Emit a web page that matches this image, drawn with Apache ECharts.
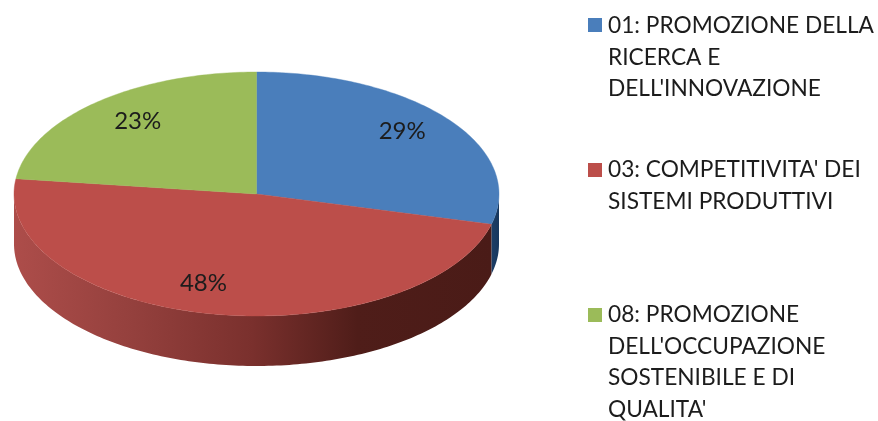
<!DOCTYPE html>
<html><head><meta charset="utf-8">
<style>html,body{margin:0;padding:0;background:#fff}#c{width:878px;height:421px}</style>
<script src="https://cdn.jsdelivr.net/npm/echarts@6/dist/echarts.min.js"></script>
</head><body><div id="c"></div>
<script>
const categories = ["01: PROMOZIONE DELLA\nRICERCA E\nDELL'INNOVAZIONE", "03: COMPETITIVITA' DEI\nSISTEMI PRODUTTIVI", "08: PROMOZIONE\nDELL'OCCUPAZIONE\nSOSTENIBILE E DI\nQUALITA'"];
const values = [29, 48, 23];
const topColors = ['#4a7ebb', '#bc4e4a', '#9bbb59'];
const wallStops = [
  [[0, '#1c3e66'], [1, '#17375e']],
  [[0, '#ad4d4a'], [0.25, '#94403d'], [0.5, '#7a302d'], [0.72, '#4f1d19'], [1, '#4a1b17']],
  [[0, '#6d8540'], [1, '#6d8540']]
];
const labelOffset = [[2, -7], [-19, -1], [1.5, -4]];
const legendTop = [18, 163, 308];
const textTop = [10, 154, 299];

const cx = 256.5, cy = 194, rx = 242.5, ry = 122, depth = 50;
const total = values.reduce((a, b) => a + b, 0);
const DEG = Math.PI / 180;
function pt(t, dy) { return [cx + rx * Math.cos(t), cy - ry * Math.sin(t) + (dy || 0)]; }
function arc(a, b, dy) {
  const n = Math.max(2, Math.ceil(Math.abs(b - a) / DEG)), out = [];
  for (let i = 0; i <= n; i++) out.push(pt(a + (b - a) * i / n, dy));
  return out;
}
function renderItem(params, api) {
  const i = params.dataIndex;
  let before = 0;
  for (let k = 0; k < i; k++) before += values[k];
  const a = Math.PI / 2 - before / total * 2 * Math.PI;
  const b = a - api.value(0) / total * 2 * Math.PI;
  const children = [];
  // visible wall: lower half of the ellipse (sin t < 0)
  const lo = -Math.PI, hi = 0;
  const ranges = [[a, b], [a + 2 * Math.PI, b + 2 * Math.PI], [a - 2 * Math.PI, b - 2 * Math.PI]];
  ranges.forEach(r => {
    const s = Math.min(r[0], hi), e = Math.max(r[1], lo);
    if (s > e) {
      const outer = arc(s, e, 0).concat(arc(e, s, depth));
      children.push({
        type: 'polygon', shape: { points: outer },
        style: { fill: new echarts.graphic.LinearGradient(0, 0, 1, 0, wallStops[i].map(c => ({ offset: c[0], color: c[1] }))), stroke: null }
      });
    }
  });
  const pts = [[cx, cy]].concat(arc(a, b, 0));
  children.push({ type: 'polygon', shape: { points: pts }, style: { fill: topColors[i], stroke: topColors[i], lineWidth: 0.4 } });
  const m = (a + b) / 2;
  const lp = [cx + 0.75 * rx * Math.cos(m) + labelOffset[i][0], cy - 0.75 * ry * Math.sin(m) + labelOffset[i][1]];
  children.push({
    type: 'text', z2: 50, x: lp[0], y: lp[1],
    style: { text: Math.round(api.value(0) / total * 100) + '%', fill: '#1c1c1c', font: '24px Lato', align: 'center', verticalAlign: 'middle' }
  });
  return { type: 'group', children };
}
const legendGraphics = [];
categories.forEach((name, i) => {
  legendGraphics.push({ type: 'rect', left: 588, top: legendTop[i], shape: { width: 14, height: 14 }, style: { fill: topColors[i] } });
  legendGraphics.push({ type: 'text', left: 608, top: textTop[i], style: { text: name, fill: '#1c1c1c', font: '22.7px Lato', lineHeight: 31.5 } });
});
const chart = echarts.init(document.getElementById('c'), null, { renderer: 'canvas' });
chart.setOption({
  animation: false,
  backgroundColor: '#fff',
  graphic: legendGraphics,
  series: [{ type: 'custom', coordinateSystem: 'none', renderItem, data: values.map((v, i) => ({ name: categories[i], value: [v] })) }]
});
</script></body></html>
